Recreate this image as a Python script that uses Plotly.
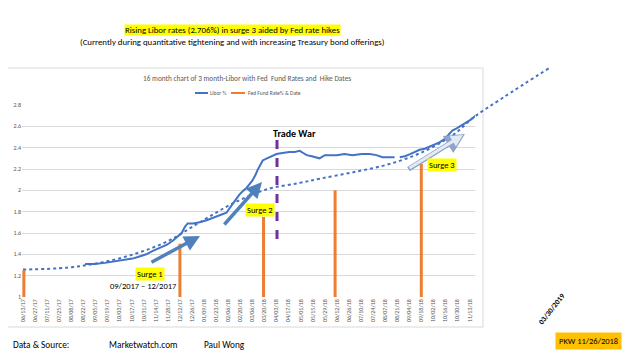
import pandas as pd
import plotly.graph_objects as go

# ---------------- data ----------------
libor_dates = ["2017-08-24", "2017-09-04", "2017-09-16", "2017-09-30", "2017-10-09", "2017-10-18",
               "2017-10-26", "2017-11-03", "2017-11-10", "2017-11-18", "2017-11-27", "2017-12-04",
               "2017-12-10", "2017-12-14", "2017-12-18", "2017-12-21", "2017-12-27", "2018-01-04",
               "2018-01-12", "2018-01-19", "2018-01-27", "2018-02-04", "2018-02-11", "2018-02-15",
               "2018-02-19", "2018-02-24", "2018-02-27", "2018-03-03", "2018-03-06", "2018-03-10",
               "2018-03-12", "2018-03-16", "2018-03-18", "2018-03-23", "2018-03-26", "2018-03-31",
               "2018-04-03", "2018-04-10", "2018-04-18", "2018-04-24", "2018-04-30", "2018-05-04",
               "2018-05-08", "2018-05-14", "2018-05-20", "2018-05-23", "2018-05-29", "2018-06-05",
               "2018-06-12", "2018-06-21", "2018-06-30", "2018-07-11", "2018-07-20", "2018-07-28",
               "2018-08-04", "2018-08-12", "2018-08-18", "2018-08-21", "2018-08-24", "2018-08-30",
               "2018-09-05", "2018-09-10", "2018-09-16", "2018-09-22", "2018-10-01", "2018-10-09",
               "2018-10-15", "2018-10-21", "2018-10-24", "2018-10-29", "2018-11-02", "2018-11-08",
               "2018-11-14", "2018-11-20"]
libor_values = [1.31, 1.31, 1.32, 1.34, 1.35, 1.36,
                1.38, 1.40, 1.43, 1.46, 1.49, 1.53,
                1.57, 1.60, 1.66, 1.69, 1.69, 1.70,
                1.72, 1.74, 1.77, 1.79, 1.87, 1.92,
                1.96, 2.00, 2.02, 2.06, 2.09, 2.15,
                2.19, 2.25, 2.28, 2.30, 2.31, 2.33,
                2.34, 2.35, 2.36, 2.36, 2.37, 2.35,
                2.33, 2.32, 2.31, 2.30, 2.33, 2.33,
                2.33, 2.34, 2.33, 2.34, 2.34, 2.33,
                2.31, 2.31, 2.31, None, 2.31, 2.32,
                2.34, 2.36, 2.38, 2.39, 2.42, 2.45,
                2.48, 2.53, 2.56, 2.58, 2.60, 2.63,
                2.66, 2.70]

trend_dates = ["2017-06-13", "2017-08-03", "2017-09-10", "2017-10-19", "2017-11-27", "2018-01-04",
               "2018-02-12", "2018-03-23", "2018-04-30", "2018-05-24", "2018-07-01", "2018-08-09",
               "2018-09-17", "2018-10-25", "2018-11-17", "2018-12-22", "2019-02-14"]
trend_values = [1.257, 1.275, 1.32, 1.40, 1.52, 1.70,
                1.88, 2.01, 2.07, 2.11, 2.17, 2.24,
                2.35, 2.52, 2.68, 2.87, 3.15]

fed_dates = ["2017-06-14", "2017-12-12", "2018-03-19", "2018-06-10", "2018-09-18"]
fed_values = [1.25, 1.50, 1.75, 2.00, 2.25]

tick_labels = ["06/13/17", "06/27/17", "07/11/17", "07/25/17", "08/08/17", "08/22/17", "09/05/17",
               "09/19/17", "10/03/17", "10/17/17", "10/31/17", "11/14/17", "11/28/17", "12/12/17",
               "12/26/17", "01/09/18", "01/23/18", "02/06/18", "02/20/18", "03/06/18", "03/20/18",
               "04/03/18", "04/17/18", "05/01/18", "05/15/18", "05/29/18", "06/12/18", "06/26/18",
               "07/10/18", "07/24/18", "08/07/18", "08/21/18", "09/04/18", "09/18/18", "10/02/18",
               "10/16/18", "10/30/18", "11/13/18"]
y_ticks = [1, 1.2, 1.4, 1.6, 1.8, 2, 2.2, 2.4, 2.6, 2.8]

# ---------------- layout helpers ----------------
# The page body has an 8px margin, so the figure is drawn 8px in from the window edge.
OFF = 8
W, H = 640 - OFF, 360 - OFF
FONT = "Liberation Sans Narrow, Carlito, Lato, sans-serif"


def P(x):
    return (x - OFF) / W


def Q(y):
    return 1 - (y - OFF) / H


# plot area in window pixels
PX0, PX1 = 22, 475      # main plot left/right
PXO = 620               # overlay right edge (for trend extension)
PY_BOT, PY_TOP = 297, 105
PY_OTOP = 40
Y_MIN, Y_MAX = 1.0, 2.8

base = pd.Timestamp("2017-06-13")
px_per_day = 12.07 / 14.0
first_tick_px = 23
x_start = base + pd.Timedelta(days=(PX0 - first_tick_px) / px_per_day)
x_end = base + pd.Timedelta(days=(PX1 - first_tick_px) / px_per_day)
x_end_o = base + pd.Timedelta(days=(PXO - first_tick_px) / px_per_day)
py_per_unit = (PY_BOT - PY_TOP) / (Y_MAX - Y_MIN)
y_max_o = Y_MIN + (PY_BOT - PY_OTOP) / py_per_unit

tick_vals = [pd.to_datetime(t, format="%m/%d/%y") for t in tick_labels]

fig = go.Figure()

# Fed fund rate vertical lines
fx, fy = [], []
for d, v in zip(fed_dates, fed_values):
    fx += [d, d, None]
    fy += [Y_MIN, v, None]
fig.add_trace(go.Scatter(x=fx, y=fy, mode="lines", line=dict(color="#ED7D31", width=3),
                         name="Fed Fund Rate% & Date", showlegend=False, xaxis="x", yaxis="y"))

# Libor line
fig.add_trace(go.Scatter(x=libor_dates, y=libor_values, mode="lines",
                         line=dict(color="#4472C4", width=2), name="Libor %",
                         showlegend=False, connectgaps=False, xaxis="x", yaxis="y"))

# Trend line on overlay axes so it can extend past plot area
fig.add_trace(go.Scatter(x=trend_dates, y=trend_values, mode="lines",
                         line=dict(color="#4472C4", width=2, dash="dot", shape="spline"),
                         name="Trend", showlegend=False, xaxis="x2", yaxis="y2"))

fig.update_layout(
    width=W, height=H,
    margin=dict(l=0, r=0, t=0, b=0),
    paper_bgcolor="white", plot_bgcolor="rgba(0,0,0,0)",
    font=dict(family=FONT, color="#000000"),
    showlegend=False,
    xaxis=dict(domain=[P(PX0), P(PX1)], range=[x_start, x_end], type="date",
               tickvals=tick_vals, ticktext=tick_labels, tickangle=-90,
               tickfont=dict(size=6, color="#595959", family=FONT),
               showgrid=False, zeroline=False, showline=False, ticks="", automargin=False),
    yaxis=dict(domain=[Q(PY_BOT), Q(PY_TOP)], range=[Y_MIN, Y_MAX],
               tickvals=y_ticks, ticktext=[f"{v:g}" for v in y_ticks],
               tickfont=dict(size=6, color="#595959", family=FONT),
               showgrid=True, gridcolor="#D9D9D9", gridwidth=1, zeroline=False,
               showline=False, ticks="", automargin=False),
    xaxis2=dict(domain=[P(PX0), P(PXO)], range=[x_start, x_end_o], type="date",
                visible=False, anchor="y2"),
    yaxis2=dict(domain=[Q(PY_BOT), Q(PY_OTOP)], range=[Y_MIN, y_max_o],
                visible=False, anchor="x2"),
)

shapes = []
# chart area border
shapes.append(dict(type="rect", xref="paper", yref="paper", x0=P(7), x1=P(483), y0=Q(327), y1=Q(68),
                   line=dict(color="#D9D9D9", width=1), fillcolor="rgba(0,0,0,0)", layer="below"))
# Trade war dashed line
shapes.append(dict(type="line", xref="paper", yref="paper", x0=P(277), x1=P(277), y0=Q(140), y1=Q(246),
                   line=dict(color="#7030A0", width=3, dash="dash")))
# manual legend
shapes.append(dict(type="line", xref="paper", yref="paper", x0=P(195), x1=P(208), y0=Q(93), y1=Q(93),
                   line=dict(color="#4472C4", width=2)))
shapes.append(dict(type="line", xref="paper", yref="paper", x0=P(231), x1=P(245), y0=Q(93), y1=Q(93),
                   line=dict(color="#ED7D31", width=2)))
fig.update_layout(shapes=shapes)

ann = []


def text(x, y, s, size, color="#000000", xanchor="center", bg=None, angle=0, pad=0):
    d = dict(x=P(x), y=Q(y), xref="paper", yref="paper", text=s, showarrow=False,
             font=dict(size=size, color=color, family=FONT), xanchor=xanchor, yanchor="middle",
             textangle=angle, borderpad=pad)
    if bg:
        d["bgcolor"] = bg
    ann.append(d)


def arrow(tx, ty, hx, hy, color, width, size=0.9):
    ann.append(dict(x=P(hx), y=Q(hy), xref="paper", yref="paper", ax=tx - hx, ay=ty - hy,
                    axref="pixel", ayref="pixel", text="", showarrow=True, arrowhead=2,
                    arrowsize=size, arrowwidth=width, arrowcolor=color))


text(232, 30, "Rising Libor rates (2.706%) in surge 3 aided by Fed rate hikes", 8.8, bg="#FFFF00")
text(232, 42, "(Currently during quantitative tightening and with increasing Treasury bond offerings)", 8.8)
text(247, 78, "16 month chart of 3 month-Libor with Fed&nbsp; Fund Rates and&nbsp; Hike Dates", 7.3, color="#595959")
text(209, 93, "Libor %", 5.5, color="#595959", xanchor="left")
text(247, 93, "Fed Fund Rate% & Date", 5.5, color="#595959", xanchor="left")
text(294, 133, "<b>Trade War</b>", 10)

arrow(150, 263, 200, 236, "#4F81BD", 3.5)
arrow(223, 226, 262, 182, "#4F81BD", 3.5)
arrow(407, 170, 465, 134, "#8EA4C8", 5, 0.8)
arrow(408, 169, 463, 135, "#E4EAF3", 3, 0.8)

text(150, 274, "Surge 1", 8.5, bg="#FFFF00", pad=1)
text(260, 210, "Surge 2", 8.5, bg="#FFFF00", pad=1)
text(442, 165, "Surge 3", 8.5, bg="#FFFF00", pad=1)
text(143, 286, "09/2017 \u2013 12/2017", 8.5)

text(551, 309, "<b>03/30/2019</b>", 7.5, angle=-52)

text(12, 344, "Data & Source:", 9.3, xanchor="left")
text(108, 344, "Marketwatch.com", 9.3, xanchor="left")
text(203, 344, "Paul Wong", 9.3, xanchor="left")
text(588, 341, "PKW 11/26/2018", 8.5, bg="#FFC000", pad=3)

fig.update_layout(annotations=ann)

fig.write_html("out.html")
